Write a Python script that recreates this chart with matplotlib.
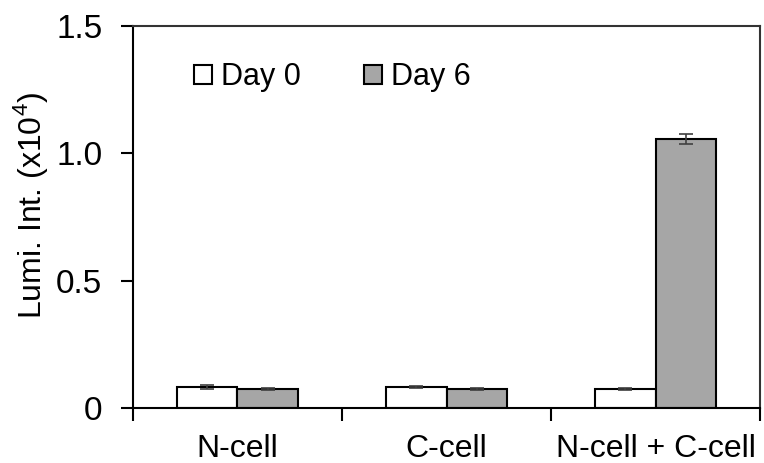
import matplotlib
matplotlib.use("Agg")
import matplotlib.pyplot as plt
import numpy as np

plt.rcParams['font.family'] = ['Liberation Sans', 'DejaVu Sans']
plt.rcParams['mathtext.fontset'] = 'custom'
plt.rcParams['mathtext.rm'] = 'Liberation Sans'

groups = ["N-cell", "C-cell", "N-cell + C-cell"]
day0 = [0.082, 0.083, 0.075]
day0_err = [0.008, 0.003, 0.005]
day6 = [0.075, 0.075, 1.055]
day6_err = [0.003, 0.003, 0.02]

fig = plt.figure(figsize=(7.64, 4.63), dpi=100)
ax = fig.add_axes([0.174, 0.119, 0.821, 0.825])

x = np.arange(len(groups))
w = 0.29
ekw = dict(ecolor="#404040", elinewidth=1.2, capsize=5, capthick=1.2)
b0 = ax.bar(x - w/2, day0, w, yerr=day0_err, color="white", edgecolor="black",
            linewidth=1.5, error_kw=ekw, label="Day 0")
b6 = ax.bar(x + w/2, day6, w, yerr=day6_err, color="#a6a6a6", edgecolor="black",
            linewidth=1.5, error_kw=ekw, label="Day 6")

ax.set_xlim(-0.5, 2.5)
ax.set_ylim(0, 1.5)
ax.set_yticks([0, 0.5, 1.0, 1.5])
ax.set_yticklabels(["0", "0.5", "1.0", "1.5"], fontsize=24)
ax.set_xticks([-0.5, 0.5, 1.5, 2.5])
ax.set_xticklabels([])
ax.set_xticks(x, minor=True)
ax.set_xticklabels(groups, minor=True, fontsize=23)
ax.tick_params(axis="x", which="minor", length=0, pad=19)
ax.tick_params(axis="x", which="major", direction="out", length=9, width=1.5)
ax.tick_params(axis="y", direction="out", length=9, width=1.5, pad=13)
for s in ax.spines.values():
    s.set_linewidth(1.5)
ax.spines["top"].set_color("#333333")
ax.spines["right"].set_color("#333333")

ax.set_ylabel("Lumi. Int. (x10$^4$)", fontsize=23)
ax.yaxis.set_label_coords(-0.133, 0.53)

ax.legend(handles=[b0, b6], loc="center left", bbox_to_anchor=(0.097, 0.865),
          ncol=2, frameon=False, fontsize=22, handlelength=0.6, handleheight=0.6,
          handletextpad=0.3, columnspacing=2.05, borderpad=0, borderaxespad=0)

fig.savefig("out.png", dpi=100)
